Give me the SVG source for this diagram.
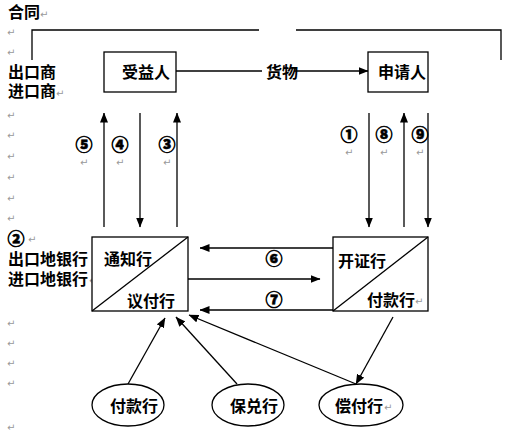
<svg xmlns="http://www.w3.org/2000/svg" width="516" height="443" viewBox="0 0 516 443">
<defs>
<marker id="ah" markerWidth="10" markerHeight="8" refX="9.5" refY="4" orient="auto" markerUnits="userSpaceOnUse">
<path d="M0,0 L10,4 L0,8 Z" fill="#000"/>
</marker>
<style>
.t{font-family:"Noto Sans CJK SC","Noto Sans",sans-serif;font-size:16px;font-weight:bold;fill:#000}
.n{font-family:"Noto Sans CJK SC","DejaVu Sans",sans-serif;font-size:17px;font-weight:900;fill:#000;stroke:#000;stroke-width:0.6;text-anchor:middle}
.p{font-family:"DejaVu Sans",sans-serif;font-size:10px;fill:#999}
.ln{stroke:#000;stroke-width:1.3;fill:none}
.ar{stroke:#000;stroke-width:1.3;fill:none;marker-end:url(#ah)}
.bx{stroke:#000;stroke-width:1.3;fill:#fff}
</style>
</defs>
<rect width="516" height="443" fill="#fff"/>

<g id="marks">
<text class="p" x="7" y="36">↵</text>
<text class="p" x="7" y="56">↵</text>
<text class="p" x="7" y="119">↵</text>
<text class="p" x="7" y="139">↵</text>
<text class="p" x="7" y="160">↵</text>
<text class="p" x="7" y="181">↵</text>
<text class="p" x="7" y="202">↵</text>
<text class="p" x="7" y="222">↵</text>
<text class="p" x="7" y="327">↵</text>
<text class="p" x="7" y="347">↵</text>
<text class="p" x="7" y="367">↵</text>
<text class="p" x="7" y="387">↵</text>
<text class="p" x="7" y="431">↵</text>
</g>

<g id="labels">
<text class="t" x="8" y="18">合同</text><text class="p" x="40" y="18">↵</text>
<text class="t" x="8" y="78">出口商</text>
<text class="t" x="8" y="97">进口商</text><text class="p" x="56" y="97">↵</text>
<text class="n" x="16" y="245">②</text><text class="p" x="28" y="243">↵</text>
<text class="t" x="8" y="265">出口地银行</text>
<text class="t" x="8" y="285">进口地银行</text><text class="p" x="89" y="284">↵</text>
</g>

<g id="connectors">
<polyline class="ln" points="32,60 32,30 259,30"/>
<polyline class="ln" points="296,30 501,30 501,60"/>
<line class="ln" x1="176" y1="71" x2="262" y2="71"/>
<line class="ar" x1="294" y1="71" x2="368" y2="71"/>
<line class="ar" x1="104" y1="227" x2="104" y2="113"/>
<line class="ar" x1="140" y1="113" x2="140" y2="227"/>
<line class="ar" x1="177" y1="227" x2="177" y2="113"/>
<line class="ar" x1="369" y1="113" x2="369" y2="227"/>
<line class="ar" x1="404" y1="227" x2="404" y2="113"/>
<line class="ar" x1="428" y1="113" x2="428" y2="227"/>
<line class="ar" x1="333" y1="248" x2="200" y2="248"/>
<line class="ar" x1="188" y1="279" x2="320" y2="279"/>
<line class="ar" x1="333" y1="310" x2="200" y2="310"/>
<line class="ar" x1="128" y1="384" x2="165" y2="318"/>
<line class="ar" x1="237" y1="384" x2="176" y2="317"/>
<line class="ar" x1="356" y1="384" x2="189" y2="315"/>
<line class="ar" x1="393" y1="317" x2="356" y2="384"/>
</g>

<g id="nums">
<text class="n" x="84" y="151">⑤</text><text class="p" x="80" y="166">↵</text>
<text class="n" x="120" y="151">④</text><text class="p" x="116" y="166">↵</text>
<text class="n" x="167" y="151">③</text><text class="p" x="163" y="166">↵</text>
<text class="n" x="349" y="141">①</text><text class="p" x="345" y="156">↵</text>
<text class="n" x="384" y="141">⑧</text><text class="p" x="380" y="156">↵</text>
<text class="n" x="420" y="141">⑨</text><text class="p" x="416" y="156">↵</text>
<text class="n" x="274" y="265">⑥</text>
<text class="n" x="274" y="306">⑦</text>
<text class="t" x="266" y="78">货物</text>
</g>

<g id="beneficiary">
<rect class="bx" x="104" y="52" width="72" height="40"/>
<text class="t" x="122" y="78">受益人</text>
</g>
<g id="applicant">
<rect class="bx" x="368" y="52" width="60" height="40"/>
<text class="t" x="378" y="78">申请人</text>
</g>
<g id="advising">
<rect class="bx" x="92" y="237" width="96" height="74"/>
<line class="ln" x1="92" y1="311" x2="188" y2="237" stroke-width="0.9"/>
<text class="t" x="104" y="265">通知行</text>
<text class="t" x="127" y="307">议付行</text>
</g>
<g id="issuing">
<rect class="bx" x="333" y="237" width="95" height="74"/>
<line class="ln" x1="333" y1="311" x2="428" y2="237" stroke-width="0.9"/>
<text class="t" x="338" y="267">开证行</text>
<text class="t" x="367" y="306">付款行</text><text class="p" x="415" y="305">↵</text>
</g>
<g id="paying">
<ellipse class="bx" cx="128" cy="405" rx="36" ry="21"/>
<text class="t" x="110" y="412">付款行</text>
</g>
<g id="confirming">
<ellipse class="bx" cx="248" cy="405" rx="36" ry="21"/>
<text class="t" x="230" y="412">保兑行</text>
</g>
<g id="reimbursing">
<ellipse class="bx" cx="361" cy="405" rx="42" ry="21"/>
<text class="t" x="335" y="412">偿付行</text><text class="p" x="384" y="411">↵</text>
</g>
</svg>
